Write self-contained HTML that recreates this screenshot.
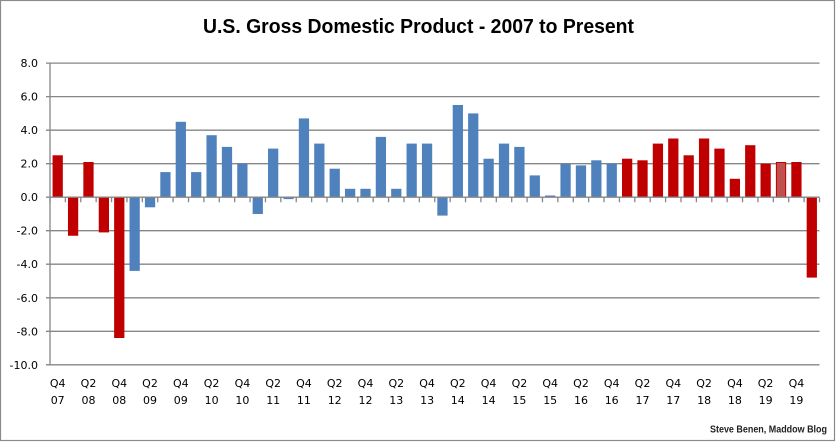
<!DOCTYPE html>
<html>
<head>
<meta charset="utf-8">
<style>
html,body{margin:0;padding:0;background:#fff;}
svg{display:block;}
</style>
</head>
<body>
<svg width="836" height="442" viewBox="0 0 836 442" xmlns="http://www.w3.org/2000/svg">
<rect x="0" y="0" width="836" height="442" fill="#fff"/>
<rect x="0.5" y="0.5" width="834" height="440" fill="none" stroke="#8a8a8a" stroke-width="1.2"/>
<text x="418.5" y="33" text-anchor="middle" font-family="Liberation Sans, sans-serif" font-weight="bold" font-size="20" fill="#000" textLength="431" lengthAdjust="spacingAndGlyphs">U.S. Gross Domestic Product - 2007 to Present</text>

<!-- gridlines -->
<g stroke="#868686" stroke-width="1.3">
<line x1="46" y1="63.1" x2="819.5" y2="63.1"/>
<line x1="46" y1="96.6" x2="819.5" y2="96.6"/>
<line x1="46" y1="130.2" x2="819.5" y2="130.2"/>
<line x1="46" y1="163.7" x2="819.5" y2="163.7"/>
<line x1="46" y1="230.7" x2="819.5" y2="230.7"/>
<line x1="46" y1="264.2" x2="819.5" y2="264.2"/>
<line x1="46" y1="297.8" x2="819.5" y2="297.8"/>
<line x1="46" y1="331.3" x2="819.5" y2="331.3"/>
<line x1="46" y1="364.8" x2="819.5" y2="364.8"/>
<line x1="50" y1="63.1" x2="50" y2="364.8"/>
</g>

<!-- bars -->
<g>
<rect x="52.57" y="155.3" width="10.26" height="41.9" fill="#c00000"/>
<rect x="67.96" y="197.2" width="10.26" height="38.55" fill="#c00000"/>
<rect x="83.35" y="162.0" width="10.26" height="35.2" fill="#c00000"/>
<rect x="98.74" y="197.2" width="10.26" height="35.2" fill="#c00000"/>
<rect x="114.13" y="197.2" width="10.26" height="140.8" fill="#c00000"/>
<rect x="129.52" y="197.2" width="10.26" height="73.7" fill="#4f81bd"/>
<rect x="144.91" y="197.2" width="10.26" height="10.1" fill="#4f81bd"/>
<rect x="160.30" y="172.1" width="10.26" height="25.1" fill="#4f81bd"/>
<rect x="175.69" y="121.8" width="10.26" height="75.4" fill="#4f81bd"/>
<rect x="191.08" y="172.1" width="10.26" height="25.1" fill="#4f81bd"/>
<rect x="206.47" y="135.2" width="10.26" height="62.0" fill="#4f81bd"/>
<rect x="221.86" y="146.9" width="10.26" height="50.3" fill="#4f81bd"/>
<rect x="237.25" y="163.7" width="10.26" height="33.5" fill="#4f81bd"/>
<rect x="252.64" y="197.2" width="10.26" height="16.8" fill="#4f81bd"/>
<rect x="268.03" y="148.6" width="10.26" height="48.6" fill="#4f81bd"/>
<rect x="283.42" y="197.2" width="10.26" height="1.9" fill="#4f81bd"/>
<rect x="298.81" y="118.4" width="10.26" height="78.8" fill="#4f81bd"/>
<rect x="314.20" y="143.6" width="10.26" height="53.6" fill="#4f81bd"/>
<rect x="329.59" y="168.7" width="10.26" height="28.5" fill="#4f81bd"/>
<rect x="344.98" y="188.8" width="10.26" height="8.4" fill="#4f81bd"/>
<rect x="360.37" y="188.8" width="10.26" height="8.4" fill="#4f81bd"/>
<rect x="375.76" y="136.9" width="10.26" height="60.3" fill="#4f81bd"/>
<rect x="391.15" y="188.8" width="10.26" height="8.4" fill="#4f81bd"/>
<rect x="406.54" y="143.6" width="10.26" height="53.6" fill="#4f81bd"/>
<rect x="421.93" y="143.6" width="10.26" height="53.6" fill="#4f81bd"/>
<rect x="437.32" y="197.2" width="10.26" height="18.4" fill="#4f81bd"/>
<rect x="452.71" y="105.0" width="10.26" height="92.2" fill="#4f81bd"/>
<rect x="468.10" y="113.4" width="10.26" height="83.8" fill="#4f81bd"/>
<rect x="483.49" y="158.7" width="10.26" height="38.5" fill="#4f81bd"/>
<rect x="498.88" y="143.6" width="10.26" height="53.6" fill="#4f81bd"/>
<rect x="514.27" y="146.9" width="10.26" height="50.3" fill="#4f81bd"/>
<rect x="529.66" y="175.4" width="10.26" height="21.8" fill="#4f81bd"/>
<rect x="545.05" y="195.5" width="10.26" height="1.7" fill="#4f81bd"/>
<rect x="560.44" y="163.7" width="10.26" height="33.5" fill="#4f81bd"/>
<rect x="575.83" y="165.4" width="10.26" height="31.8" fill="#4f81bd"/>
<rect x="591.22" y="160.3" width="10.26" height="36.9" fill="#4f81bd"/>
<rect x="606.61" y="163.7" width="10.26" height="33.5" fill="#4f81bd"/>
<rect x="622.00" y="158.7" width="10.26" height="38.5" fill="#c00000"/>
<rect x="637.39" y="160.3" width="10.26" height="36.9" fill="#c00000"/>
<rect x="652.78" y="143.6" width="10.26" height="53.6" fill="#c00000"/>
<rect x="668.17" y="138.5" width="10.26" height="58.7" fill="#c00000"/>
<rect x="683.56" y="155.3" width="10.26" height="41.9" fill="#c00000"/>
<rect x="698.95" y="138.5" width="10.26" height="58.7" fill="#c00000"/>
<rect x="714.34" y="148.6" width="10.26" height="48.6" fill="#c00000"/>
<rect x="729.73" y="178.8" width="10.26" height="18.4" fill="#c00000"/>
<rect x="745.12" y="145.2" width="10.26" height="52.0" fill="#c00000"/>
<rect x="760.51" y="163.7" width="10.26" height="33.5" fill="#c00000"/>
<rect x="776.40" y="162.5" width="9.26" height="34.7" fill="#c0504d" stroke="#c00000" stroke-width="1"/>
<rect x="791.29" y="162.0" width="10.26" height="35.2" fill="#c00000"/>
<rect x="806.68" y="197.2" width="10.26" height="80.4" fill="#c00000"/>
</g>

<!-- zero axis and ticks -->
<g stroke="#868686" stroke-width="1.3">
<line x1="46" y1="197.2" x2="819.5" y2="197.2"/>
<path d="M50 197.2v5M65.39 197.2v5M80.78 197.2v5M96.17 197.2v5M111.56 197.2v5M126.95 197.2v5M142.34 197.2v5M157.73 197.2v5M173.12 197.2v5M188.51 197.2v5M203.9 197.2v5M219.29 197.2v5M234.68 197.2v5M250.07 197.2v5M265.46 197.2v5M280.85 197.2v5M296.24 197.2v5M311.63 197.2v5M327.02 197.2v5M342.41 197.2v5M357.8 197.2v5M373.19 197.2v5M388.58 197.2v5M403.97 197.2v5M419.36 197.2v5M434.75 197.2v5M450.14 197.2v5M465.53 197.2v5M480.92 197.2v5M496.31 197.2v5M511.7 197.2v5M527.09 197.2v5M542.48 197.2v5M557.87 197.2v5M573.26 197.2v5M588.65 197.2v5M604.04 197.2v5M619.43 197.2v5M634.82 197.2v5M650.21 197.2v5M665.6 197.2v5M680.99 197.2v5M696.38 197.2v5M711.77 197.2v5M727.16 197.2v5M742.55 197.2v5M757.94 197.2v5M773.33 197.2v5M788.72 197.2v5M804.11 197.2v5M819.5 197.2v5"/>
</g>

<!-- y labels -->
<g font-family="DejaVu Sans, sans-serif" font-size="11" fill="#000" text-anchor="end">
<text x="38" y="67.1">8.0</text>
<text x="38" y="100.6">6.0</text>
<text x="38" y="134.2">4.0</text>
<text x="38" y="167.7">2.0</text>
<text x="38" y="201.2">0.0</text>
<text x="38" y="234.7">-2.0</text>
<text x="38" y="268.2">-4.0</text>
<text x="38" y="301.8">-6.0</text>
<text x="38" y="335.3">-8.0</text>
<text x="38" y="368.8">-10.0</text>
</g>

<!-- x labels -->
<g font-family="DejaVu Sans, sans-serif" font-size="11" fill="#000" text-anchor="middle">
<text x="57.7" y="387">Q4</text><text x="57.7" y="404">07</text>
<text x="88.5" y="387">Q2</text><text x="88.5" y="404">08</text>
<text x="119.3" y="387">Q4</text><text x="119.3" y="404">08</text>
<text x="150.0" y="387">Q2</text><text x="150.0" y="404">09</text>
<text x="180.8" y="387">Q4</text><text x="180.8" y="404">09</text>
<text x="211.6" y="387">Q2</text><text x="211.6" y="404">10</text>
<text x="242.4" y="387">Q4</text><text x="242.4" y="404">10</text>
<text x="273.2" y="387">Q2</text><text x="273.2" y="404">11</text>
<text x="303.9" y="387">Q4</text><text x="303.9" y="404">11</text>
<text x="334.7" y="387">Q2</text><text x="334.7" y="404">12</text>
<text x="365.5" y="387">Q4</text><text x="365.5" y="404">12</text>
<text x="396.3" y="387">Q2</text><text x="396.3" y="404">13</text>
<text x="427.1" y="387">Q4</text><text x="427.1" y="404">13</text>
<text x="457.8" y="387">Q2</text><text x="457.8" y="404">14</text>
<text x="488.6" y="387">Q4</text><text x="488.6" y="404">14</text>
<text x="519.4" y="387">Q2</text><text x="519.4" y="404">15</text>
<text x="550.2" y="387">Q4</text><text x="550.2" y="404">15</text>
<text x="581.0" y="387">Q2</text><text x="581.0" y="404">16</text>
<text x="611.7" y="387">Q4</text><text x="611.7" y="404">16</text>
<text x="642.5" y="387">Q2</text><text x="642.5" y="404">17</text>
<text x="673.3" y="387">Q4</text><text x="673.3" y="404">17</text>
<text x="704.1" y="387">Q2</text><text x="704.1" y="404">18</text>
<text x="734.9" y="387">Q4</text><text x="734.9" y="404">18</text>
<text x="765.6" y="387">Q2</text><text x="765.6" y="404">19</text>
<text x="796.4" y="387">Q4</text><text x="796.4" y="404">19</text>
</g>

<text x="710" y="432.3" font-family="Liberation Sans, sans-serif" font-weight="bold" font-size="10" fill="#222" textLength="117" lengthAdjust="spacingAndGlyphs">Steve Benen, Maddow Blog</text>
</svg>
</body>
</html>
